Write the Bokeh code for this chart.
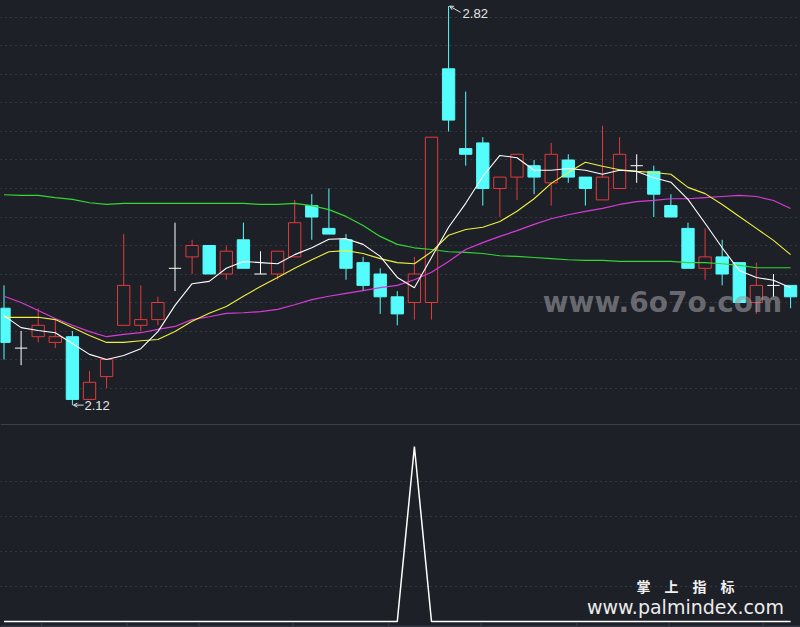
import numpy as np
from bokeh.plotting import figure
from bokeh.layouts import column
from bokeh.models import Range1d, FixedTicker, Arrow, OpenHead, Label, Span
from bokeh.core.properties import value
from bokeh.embed import file_html
from bokeh.resources import INLINE

# ---------------- data ----------------
opens = [2.29, 2.22, 2.24, 2.23, 2.24, 2.13, 2.17, 2.26, 2.26, 2.27,
         2.36, 2.38, 2.40, 2.35, 2.41, 2.35, 2.35, 2.38, 2.47, 2.43,
         2.41, 2.37, 2.35, 2.31, 2.30, 2.30, 2.71, 2.57, 2.58, 2.50,
         2.52, 2.54, 2.51, 2.55, 2.52, 2.48, 2.50, 2.54, 2.53, 2.47,
         2.43, 2.36, 2.38, 2.37, 2.30, 2.33, 2.33]
highs = [2.33, 2.25, 2.29, 2.27, 2.25, 2.18, 2.20, 2.42, 2.33, 2.31,
         2.44, 2.41, 2.40, 2.40, 2.44, 2.39, 2.39, 2.48, 2.49, 2.50,
         2.42, 2.38, 2.36, 2.32, 2.38, 2.59, 2.82, 2.67, 2.59, 2.52,
         2.56, 2.55, 2.58, 2.56, 2.52, 2.61, 2.59, 2.56, 2.54, 2.49,
         2.44, 2.43, 2.41, 2.37, 2.37, 2.35, 2.33]
lows = [2.20, 2.19, 2.23, 2.22, 2.12, 2.13, 2.15, 2.26, 2.25, 2.26,
        2.32, 2.35, 2.35, 2.34, 2.36, 2.35, 2.34, 2.38, 2.41, 2.42,
        2.34, 2.32, 2.28, 2.26, 2.27, 2.27, 2.60, 2.54, 2.47, 2.45,
        2.48, 2.49, 2.47, 2.51, 2.47, 2.48, 2.50, 2.51, 2.45, 2.45,
        2.36, 2.34, 2.33, 2.30, 2.28, 2.31, 2.29]
closes = [2.23, 2.22, 2.26, 2.24, 2.13, 2.16, 2.20, 2.33, 2.27, 2.30,
          2.36, 2.40, 2.35, 2.39, 2.36, 2.35, 2.39, 2.44, 2.45, 2.42,
          2.36, 2.33, 2.31, 2.28, 2.35, 2.59, 2.62, 2.56, 2.50, 2.52,
          2.56, 2.52, 2.56, 2.52, 2.50, 2.52, 2.56, 2.54, 2.49, 2.45,
          2.36, 2.38, 2.35, 2.30, 2.33, 2.33, 2.31]

ma_white = [2.277, 2.256, 2.251, 2.247, 2.228, 2.209, 2.200, 2.207, 2.219, 2.249,
            2.295, 2.333, 2.337, 2.360, 2.372, 2.370, 2.368, 2.384, 2.396, 2.411,
            2.412, 2.402, 2.381, 2.344, 2.326, 2.379, 2.432, 2.474, 2.521, 2.558,
            2.554, 2.532, 2.532, 2.535, 2.532, 2.525, 2.532, 2.530, 2.519, 2.511,
            2.481, 2.439, 2.396, 2.356, 2.344, 2.339, 2.326]
ma_yellow = [2.274, 2.274, 2.274, 2.270, 2.256, 2.242, 2.230, 2.230, 2.233, 2.235,
             2.249, 2.267, 2.281, 2.293, 2.311, 2.328, 2.344, 2.360, 2.375, 2.389,
             2.391, 2.386, 2.377, 2.370, 2.368, 2.389, 2.418, 2.428, 2.432, 2.442,
             2.460, 2.482, 2.509, 2.528, 2.546, 2.539, 2.533, 2.530, 2.528, 2.525,
             2.502, 2.491, 2.472, 2.451, 2.430, 2.409, 2.384]
ma_magenta = [2.311, 2.300, 2.286, 2.272, 2.260, 2.249, 2.240, 2.244, 2.247, 2.253,
              2.258, 2.270, 2.275, 2.281, 2.282, 2.284, 2.288, 2.296, 2.305, 2.311,
              2.316, 2.321, 2.326, 2.330, 2.340, 2.353, 2.372, 2.393, 2.405, 2.416,
              2.426, 2.437, 2.447, 2.454, 2.460, 2.465, 2.472, 2.477, 2.479, 2.482,
              2.482, 2.484, 2.486, 2.488, 2.486, 2.479, 2.465]
ma_green = [2.489, 2.488, 2.488, 2.484, 2.481, 2.475, 2.472, 2.474, 2.474, 2.474,
            2.474, 2.474, 2.474, 2.474, 2.474, 2.472, 2.472, 2.474, 2.470, 2.463,
            2.451, 2.435, 2.416, 2.402, 2.396, 2.393, 2.389, 2.388, 2.386, 2.382,
            2.381, 2.379, 2.377, 2.375, 2.374, 2.374, 2.372, 2.372, 2.372, 2.372,
            2.370, 2.370, 2.368, 2.365, 2.361, 2.361, 2.361]

signal = [0, 0, 0, 0, 0, 0, 0, 0, 0, 0,
          0, 0, 0, 0, 0, 0, 0, 0, 0, 0,
          0, 0, 0, 0, 100, 0, 0, 0, 0, 0,
          0, 0, 0, 0, 0, 0, 0, 0, 0, 0,
          0, 0, 0, 0, 0, 0, 0]

price_grid = [2.15, 2.20, 2.25, 2.30, 2.35, 2.40, 2.45, 2.50, 2.55, 2.60, 2.65, 2.70, 2.75, 2.80]
signal_grid = [20, 40, 60, 80]
date_ticks = [2.2, 7.2, 11.4, 16.9, 22.5, 27.9, 33.5, 38.9, 44.4]

watermark_text = "www.6o7o.com"
brand_cn = "掌\u3000上\u3000指\u3000标"
brand_url = "www.palmindex.com"

# ---------------- styling ----------------
BG = "#1e2028"
GRID = "#4a4f5a"
SEP = "#3c414c"
RED = "#e23a3a"
CYAN = "#54fcfc"
W = 800
H1, H2 = 422, 205

n = len(opens)
idx = np.arange(n)
o = np.array(opens)
c = np.array(closes)
hi = np.array(highs)
lo = np.array(lows)
top = np.maximum(o, c)
bot = np.minimum(o, c)
up = c > o
down = c < o
flat = c == o
colors = np.where(up, RED, np.where(down, CYAN, "#ffffff"))
fills = np.where(up, BG, CYAN)

xr = Range1d(-0.205, 46.58)

p1 = figure(width=W, height=H1, x_range=xr, y_range=Range1d(2.0895, 2.8298),
            output_backend="svg", toolbar_location=None,
            x_axis_location=None, y_axis_location=None, min_border=0,
            background_fill_color=BG, border_fill_color=BG, outline_line_color=None)
p1.xgrid.visible = False
p1.ygrid.ticker = FixedTicker(ticks=price_grid)
p1.ygrid.grid_line_color = GRID
p1.ygrid.grid_line_dash = "1 4"

# wicks
p1.segment(x0=idx, y0=hi, x1=idx, y1=top, color=list(colors), line_width=1)
p1.segment(x0=idx, y0=bot, x1=idx, y1=lo, color=list(colors), line_width=1)
# bodies
nb = ~flat
p1.vbar(x=idx[nb], top=top[nb], bottom=bot[nb], width=0.72,
        fill_color=list(fills[nb]), line_color=list(colors[nb]), line_width=1)
# doji bars
p1.segment(x0=idx[flat] - 0.36, y0=o[flat], x1=idx[flat] + 0.36, y1=o[flat],
           color="#ffffff", line_width=1)

# moving averages
p1.line(idx, ma_green, color="#33d633", line_width=1.2)
p1.line(idx, ma_magenta, color="#d63cd6", line_width=1.2)
p1.line(idx, ma_yellow, color="#f0f040", line_width=1.1)
p1.line(idx, ma_white, color="#ffffff", line_width=1.1)

# extreme markers
imax = int(np.argmax(hi)); hmax = float(hi[imax])
imin = int(np.argmin(lo)); lmin = float(lo[imin])
p1.add_layout(Arrow(end=OpenHead(size=4, line_color="#e0e0e0", line_width=1),
                    x_start=imax + 0.7, y_start=hmax - 0.011, x_end=imax + 0.06, y_end=hmax,
                    line_color="#e0e0e0", line_width=1))
p1.add_layout(Arrow(end=OpenHead(size=4, line_color="#e0e0e0", line_width=1),
                    x_start=imin + 0.66, y_start=lmin, x_end=imin + 0.06, y_end=lmin,
                    line_color="#e0e0e0", line_width=1))
p1.text(x=[imax], y=[hmax], text=[f"{hmax:.2f}"], x_offset=14, y_offset=7,
        text_baseline="middle", text_align="left", text_font=value("Liberation Sans"),
        text_font_size="13px", text_color="#e6e6e6")
p1.text(x=[imin], y=[lmin], text=[f"{lmin:.2f}"], x_offset=12, y_offset=0,
        text_baseline="middle", text_align="left", text_font=value("Liberation Sans"),
        text_font_size="13px", text_color="#e6e6e6")

p1.add_layout(Label(x=662, y=120, x_units="screen", y_units="screen", text=watermark_text,
                    text_font="DejaVu Sans", text_font_style="bold", text_font_size="28px",
                    text_color="#9c9ca0", text_alpha=0.6, text_align="center",
                    text_baseline="alphabetic"))

# ---------------- lower panel ----------------
y2 = Range1d(-3.43, 113.71)
p2 = figure(width=W, height=H2, x_range=xr, y_range=y2,
            output_backend="svg", toolbar_location=None,
            x_axis_location=None, y_axis_location=None, min_border=0,
            background_fill_color=BG, border_fill_color=BG, outline_line_color=None)
p2.xgrid.visible = False
p2.ygrid.ticker = FixedTicker(ticks=signal_grid)
p2.ygrid.grid_line_color = GRID
p2.ygrid.grid_line_dash = "1 4"

sep_top = 112.57
sep_bottom = -2.69
p2.add_layout(Span(location=sep_top, dimension="width", line_color=SEP, line_width=1))
p2.add_layout(Span(location=sep_bottom, dimension="width", line_color=SEP, line_width=1))
p2.segment(x0=date_ticks, y0=[sep_bottom] * len(date_ticks),
           x1=date_ticks, y1=[sep_bottom + 1.7] * len(date_ticks),
           color=SEP, line_width=1)

p2.line(idx, signal, color="#ffffff", line_width=1.5)

p2.add_layout(Label(x=685, y=42, x_units="screen", y_units="screen", text=brand_cn,
                    text_font="Noto Sans CJK SC", text_font_style="bold", text_font_size="14px",
                    text_color="#f0f0f0", text_align="center", text_baseline="middle"))
p2.add_layout(Label(x=685, y=21, x_units="screen", y_units="screen", text=brand_url,
                    text_font="DejaVu Sans", text_font_size="19px",
                    text_color="#ececec", text_align="center", text_baseline="alphabetic"))

layout = column(p1, p2, spacing=0)
html = file_html(layout, INLINE, title="chart")
html = html.replace("</head>", "<style>html, body { background: %s; }</style></head>" % BG, 1)
open("out.html", "w").write(html)
